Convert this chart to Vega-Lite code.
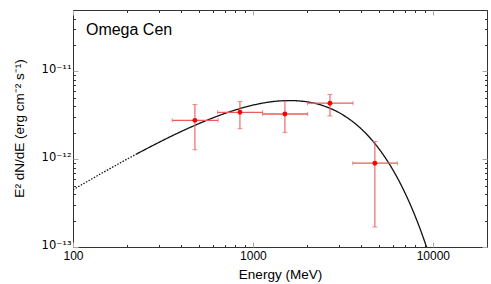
{
  "$schema": "https://vega.github.io/schema/vega-lite/v6.json",
  "width": 414,
  "height": 237,
  "autosize": {"type": "none"},
  "padding": {"left": 73, "top": 10, "right": 4, "bottom": 37},
  "config": {
    "view": {"stroke": "#333", "strokeWidth": 1},
    "font": "Liberation Sans",
    "axis": {"grid": false, "domain": false, "labelColor": "#000", "titleColor": "#000", "titleFontWeight": "normal", "labelFont": "Liberation Sans", "titleFont": "Liberation Sans"}
  },
  "datasets": {
    "curve": [
      {"E": 100, "flux": 4.487e-13, "part": "extrap"},
      {"E": 125.9, "flux": 5.896e-13, "part": "extrap"},
      {"E": 158.5, "flux": 7.703e-13, "part": "extrap"},
      {"E": 199.5, "flux": 1.0e-12, "part": "extrap"},
      {"E": 223.9, "flux": 1.136e-12, "part": "extrap"},
      {"E": 223.9, "flux": 1.136e-12, "part": "fit"},
      {"E": 251.2, "flux": 1.287e-12, "part": "fit"},
      {"E": 316.2, "flux": 1.639e-12, "part": "fit"},
      {"E": 398.1, "flux": 2.06e-12, "part": "fit"},
      {"E": 501.2, "flux": 2.544e-12, "part": "fit"},
      {"E": 631.0, "flux": 3.077e-12, "part": "fit"},
      {"E": 794.3, "flux": 3.625e-12, "part": "fit"},
      {"E": 1000, "flux": 4.126e-12, "part": "fit"},
      {"E": 1258.9, "flux": 4.501e-12, "part": "fit"},
      {"E": 1584.9, "flux": 4.656e-12, "part": "fit"},
      {"E": 1995.3, "flux": 4.503e-12, "part": "fit"},
      {"E": 2511.9, "flux": 4.003e-12, "part": "fit"},
      {"E": 3162.3, "flux": 3.198e-12, "part": "fit"},
      {"E": 3981.1, "flux": 2.233e-12, "part": "fit"},
      {"E": 4466.8, "flux": 1.757e-12, "part": "fit"},
      {"E": 5011.9, "flux": 1.317e-12, "part": "fit"},
      {"E": 5623.4, "flux": 9.374e-13, "part": "fit"},
      {"E": 6309.6, "flux": 6.284e-13, "part": "fit"},
      {"E": 7079.5, "flux": 3.939e-13, "part": "fit"},
      {"E": 7943.3, "flux": 2.293e-13, "part": "fit"},
      {"E": 8912.5, "flux": 1.227e-13, "part": "fit"},
      {"E": 9332.5, "flux": 9.31e-14, "part": "fit"}
    ],
    "pts": [
      {"E": 476, "Elo": 356, "Ehi": 641, "flux": 2.77e-12, "flo": 1.28e-12, "fhi": 4.19e-12},
      {"E": 847, "Elo": 636, "Ehi": 1132, "flux": 3.42e-12, "flo": 2.22e-12, "fhi": 4.55e-12},
      {"E": 1506, "Elo": 1132, "Ehi": 2014, "flux": 3.27e-12, "flo": 2.02e-12, "fhi": 4.57e-12},
      {"E": 2680, "Elo": 2010, "Ehi": 3600, "flux": 4.34e-12, "flo": 3.11e-12, "fhi": 5.46e-12},
      {"E": 4762, "Elo": 3590, "Ehi": 6350, "flux": 9.0e-13, "flo": 1.69e-13, "fhi": 1.59e-12}
    ],
    "lbl": [
      {"E": 118, "flux": 2.95e-11, "label": "Omega Cen"}
    ]
  },
  "layer": [
    {
      "data": {"name": "curve"},
      "mark": {"type": "line", "interpolate": "monotone", "clip": true, "color": "#111", "strokeWidth": 1.3},
      "encoding": {
        "x": {
          "field": "E", "type": "quantitative",
          "scale": {"type": "log", "domain": [100, 20000], "nice": false},
          "axis": {
            "orient": "bottom",
            "values": [100, 200, 300, 400, 500, 600, 700, 800, 900, 1000, 2000, 3000, 4000, 5000, 6000, 7000, 8000, 9000, 10000, 20000],
            "labelExpr": "(datum.value == 100 || datum.value == 1000 || datum.value == 10000) ? format(datum.value, 'd') : ''",
            "tickSize": {"condition": {"test": "datum.value == 100 || datum.value == 1000 || datum.value == 10000", "value": -5}, "value": -2.5},
            "tickColor": {"condition": {"test": "datum.value == 100 || datum.value == 1000 || datum.value == 10000", "value": "#aaa"}, "value": "#333"},
            "labelFontSize": 12,
            "labelPadding": 8,
            "labelFlush": false,
            "labelOverlap": false,
            "title": "Energy (MeV)",
            "titleFontSize": 13.5,
            "titleY": 31,
            "titleBaseline": "alphabetic"
          }
        },
        "y": {
          "field": "flux", "type": "quantitative",
          "scale": {"type": "log", "domain": [1e-13, 5e-11], "nice": false},
          "axis": {
            "orient": "left",
            "values": [1e-13, 2e-13, 3e-13, 4e-13, 5e-13, 6e-13, 7e-13, 8e-13, 9e-13, 1e-12, 2e-12, 3e-12, 4e-12, 5e-12, 6e-12, 7e-12, 8e-12, 9e-12, 1e-11, 2e-11, 3e-11, 4e-11, 5e-11],
            "labelExpr": "abs(log(datum.value)/LN10 + 13) < 0.001 ? '10⁻¹³' : abs(log(datum.value)/LN10 + 12) < 0.001 ? '10⁻¹²' : abs(log(datum.value)/LN10 + 11) < 0.001 ? '10⁻¹¹' : ''",
            "tickSize": {"condition": {"test": "abs(log(datum.value)/LN10 - round(log(datum.value)/LN10)) < 0.001", "value": -5}, "value": -2.5},
            "tickColor": {"condition": {"test": "abs(log(datum.value)/LN10 - round(log(datum.value)/LN10)) < 0.001", "value": "#aaa"}, "value": "#333"},
            "labelFont": "DejaVu Sans",
            "labelFontSize": 11.5,
            "labelPadding": 7,
            "labelOffset": -2,
            "labelFlush": false,
            "labelOverlap": false,
            "title": "E² dN/dE (erg cm⁻² s⁻¹)",
            "titleFontSize": 13.5,
            "titleAngle": 270,
            "titleX": -50,
            "titleY": 118,
            "titleAlign": "center",
            "titleBaseline": "alphabetic"
          }
        },
        "strokeDash": {
          "field": "part", "type": "nominal",
          "scale": {"domain": ["fit", "extrap"], "range": [[1, 0], [1.5, 1.5]]},
          "legend": null
        }
      }
    },
    {
      "data": {"name": "pts"},
      "mark": {"type": "errorbar", "ticks": {"size": 5, "color": "#ef5b5b"}, "rule": {"color": "#ef5b5b", "strokeWidth": 1.1}},
      "encoding": {
        "x": {"field": "E", "type": "quantitative", "scale": {"type": "log", "domain": [100, 20000], "nice": false}, "axis": null},
        "y": {"field": "flo", "type": "quantitative", "scale": {"type": "log", "domain": [1e-13, 5e-11], "nice": false}, "axis": null},
        "y2": {"field": "fhi"}
      }
    },
    {
      "data": {"name": "pts"},
      "mark": {"type": "errorbar", "ticks": {"size": 4, "color": "#ef5b5b"}, "rule": {"color": "#ef5b5b", "strokeWidth": 1.3}},
      "encoding": {
        "y": {"field": "flux", "type": "quantitative", "scale": {"type": "log", "domain": [1e-13, 5e-11], "nice": false}, "axis": null},
        "x": {"field": "Elo", "type": "quantitative", "scale": {"type": "log", "domain": [100, 20000], "nice": false}, "axis": null},
        "x2": {"field": "Ehi"}
      }
    },
    {
      "data": {"name": "pts"},
      "mark": {"type": "point", "filled": true, "color": "#ff0000", "opacity": 1, "size": 24},
      "encoding": {
        "x": {
          "field": "E", "type": "quantitative",
          "scale": {"type": "log", "domain": [100, 20000], "nice": false},
          "axis": {
            "orient": "top",
            "values": [100, 200, 300, 400, 500, 600, 700, 800, 900, 1000, 2000, 3000, 4000, 5000, 6000, 7000, 8000, 9000, 10000, 20000],
            "labels": false,
            "title": null,
            "tickSize": {"condition": {"test": "datum.value == 100 || datum.value == 1000 || datum.value == 10000", "value": -5}, "value": -2.5},
            "tickColor": {"condition": {"test": "datum.value == 100 || datum.value == 1000 || datum.value == 10000", "value": "#aaa"}, "value": "#333"}
          }
        },
        "y": {
          "field": "flux", "type": "quantitative",
          "scale": {"type": "log", "domain": [1e-13, 5e-11], "nice": false},
          "axis": {
            "orient": "right",
            "values": [1e-13, 2e-13, 3e-13, 4e-13, 5e-13, 6e-13, 7e-13, 8e-13, 9e-13, 1e-12, 2e-12, 3e-12, 4e-12, 5e-12, 6e-12, 7e-12, 8e-12, 9e-12, 1e-11, 2e-11, 3e-11, 4e-11, 5e-11],
            "labels": false,
            "title": null,
            "tickSize": {"condition": {"test": "abs(log(datum.value)/LN10 - round(log(datum.value)/LN10)) < 0.001", "value": -5}, "value": -2.5},
            "tickColor": {"condition": {"test": "abs(log(datum.value)/LN10 - round(log(datum.value)/LN10)) < 0.001", "value": "#aaa"}, "value": "#333"}
          }
        }
      }
    },
    {
      "data": {"name": "lbl"},
      "mark": {"type": "text", "align": "left", "baseline": "middle", "fontSize": 16, "font": "Liberation Sans", "color": "#000"},
      "encoding": {
        "x": {"field": "E", "type": "quantitative", "scale": {"type": "log", "domain": [100, 20000], "nice": false}, "axis": null},
        "y": {"field": "flux", "type": "quantitative", "scale": {"type": "log", "domain": [1e-13, 5e-11], "nice": false}, "axis": null},
        "text": {"field": "label"}
      }
    }
  ],
  "resolve": {"axis": {"x": "independent", "y": "independent"}}
}
